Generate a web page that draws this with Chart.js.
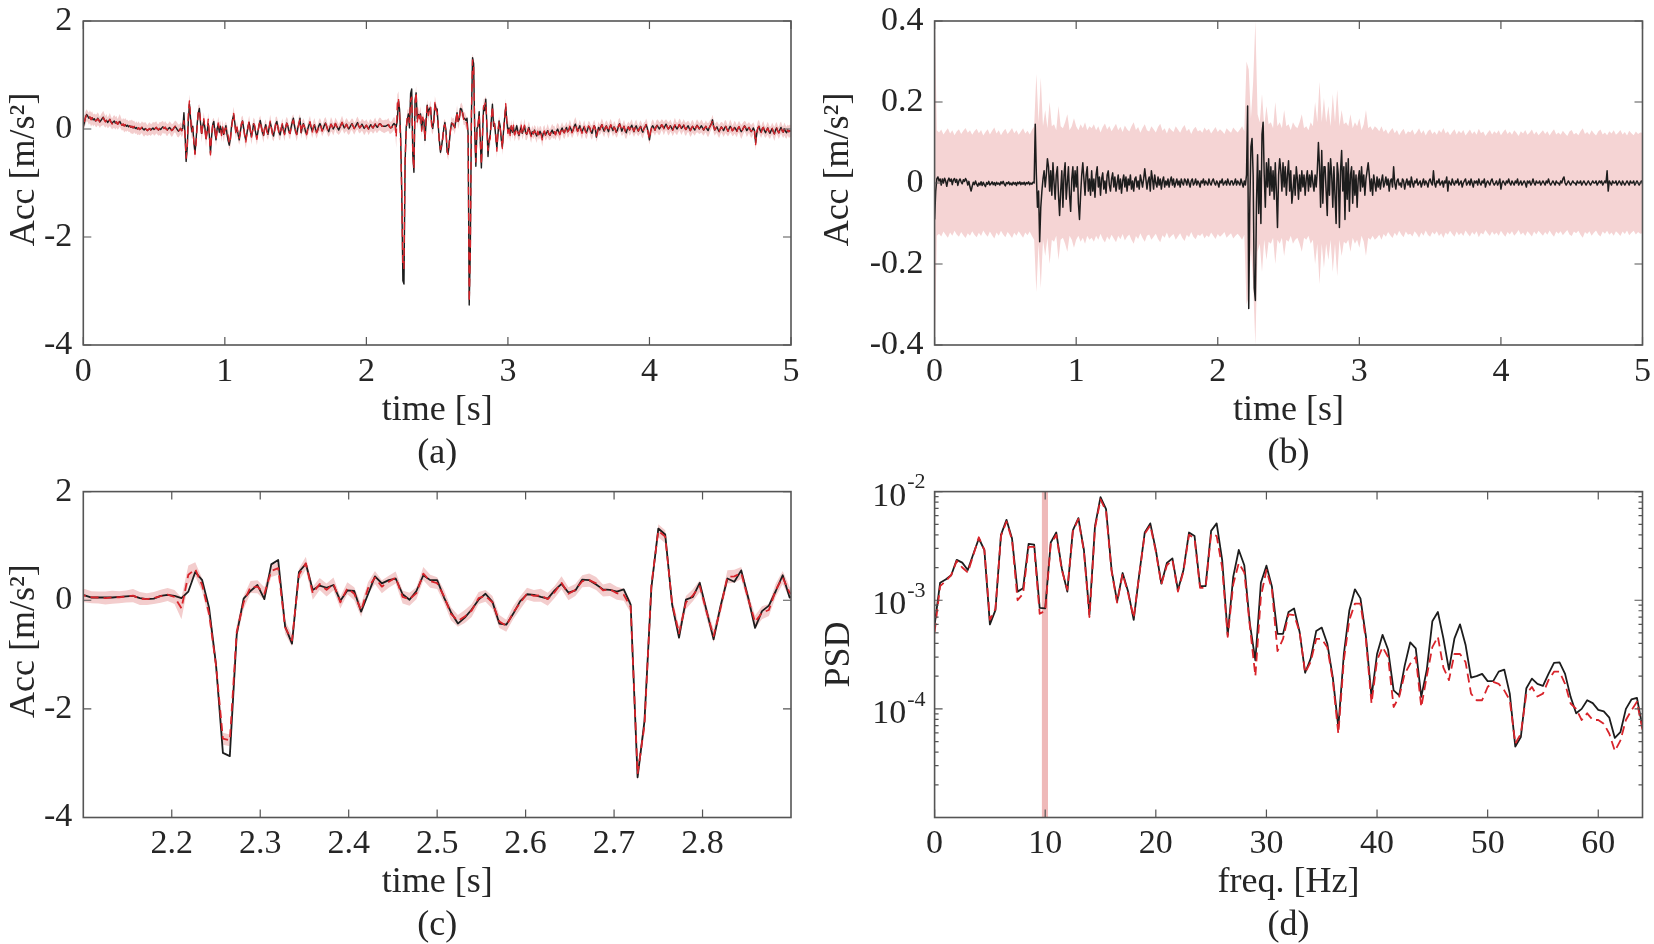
<!DOCTYPE html>
<html><head><meta charset="utf-8">
<script src="https://cdn.jsdelivr.net/npm/chart.js@4.4.1/dist/chart.umd.min.js"></script>
<style>
html,body{margin:0;padding:0;background:#fff;width:1654px;height:944px;overflow:hidden}
.box{position:absolute}
</style></head><body>
<div class="box" style="left:0;top:0"><canvas id="ca" width="827" height="472"></canvas></div>
<div class="box" style="left:790px;top:0"><canvas id="cb" width="864" height="472"></canvas></div>
<div class="box" style="left:0;top:472px"><canvas id="cc" width="827" height="472"></canvas></div>
<div class="box" style="left:790px;top:472px"><canvas id="cd" width="864" height="472"></canvas></div>
<script>
// ---------------- data ----------------
const fs = 128;      // samples per second of the acceleration records
const fsBand = 64;   // samples per second of the error-band envelope in (b)

// measured acceleration (black), m/s^2
const accTrue = [
0.04,0.12,0.22,0.27,0.24,0.2,0.22,0.18,0.21,0.17,
0.19,0.15,0.16,0.2,0.17,0.13,0.16,0.19,0.22,0.17,
0.14,0.16,0.12,0.15,0.18,0.13,0.1,0.13,0.15,0.11,
0.13,0.09,0.11,0.14,0.1,0.07,0.09,0.06,0.08,0.05,
0.07,0.04,0.06,0.03,0.05,0.02,0.04,0.01,0.03,0,
0.02,-0.01,0.01,0.03,0,-0.02,0.01,-0.01,-0.03,-0.01,
0.01,-0.02,0,0.02,-0.01,0.01,0.03,0,-0.02,0.01,
-0.01,0.02,0.04,0.01,0.03,0,-0.02,0.01,0.03,0,
-0.03,-0.01,0.02,0.05,0.02,-0.01,-0.04,-0.02,0.01,-0.03,
0.02,0.3,-0.1,-0.6,-0.35,0.15,0.46,0.2,-0.05,0.05,
-0.25,-0.45,-0.2,0.1,0.3,0.38,0.12,-0.08,0.05,0.15,
0.02,-0.18,-0.05,0.1,-0.12,-0.45,-0.15,0.08,0.14,-0.05,
-0.2,0,0.08,-0.06,0.05,-0.08,0.02,-0.1,-0.02,0.06,
-0.1,-0.22,-0.3,-0.18,0.05,0.18,0.26,0.12,-0.05,0.02,
-0.1,-0.2,-0.05,0.08,0.15,0.02,-0.12,-0.2,-0.08,0.05,
0.12,-0.02,-0.14,-0.05,0.1,0.04,-0.08,-0.16,-0.04,0.07,
0.16,0.05,-0.06,-0.12,0,0.08,-0.03,-0.1,0.02,0.12,
0.04,-0.07,-0.13,-0.02,0.09,0.14,0.03,-0.06,-0.11,0.01,
0.08,-0.02,-0.09,0.03,0.11,0.05,-0.04,-0.08,0.04,0.13,
0.2,0.06,-0.05,-0.1,0.02,0.09,0.2,-0.07,0.03,0.1,
0.04,-0.05,-0.09,0,0.07,0.12,0.03,-0.04,0.02,0.08,
0,-0.06,-0.02,0.06,0.1,0.04,-0.03,0.01,0.07,0.11,
0.05,-0.01,-0.05,0.03,0.09,0.05,0,0.04,0.1,0.06,
0.02,-0.02,0.03,0.08,0.12,0.07,0.02,0.05,0.09,0.04,
0,0.03,0.07,0.1,0.05,0.01,0.04,0.08,0.12,0.06,
0.02,0.05,0.09,0.05,0.01,0.04,0.07,0.03,0,0.05,
0.08,0.04,0.02,0.06,0.09,0.05,0.03,0.07,0.1,0.09,
0.05,0.05,0.05,0.05,0.06,0.07,0.08,0.04,0.02,0.03,
0.08,0.1,0.08,0.04,0.16,0.52,0.37,-0.14,-1.18,-2.81,
-2.87,-0.63,0.03,0.17,0.28,0.02,0.66,0.74,-0.48,-0.8,
0.52,0.67,0.19,0.27,0.23,0.28,-0.01,0.18,0.17,-0.21,
0.11,0.44,0.31,0.37,0.4,0.11,0.01,0.17,0.46,0.37,
0.37,0.05,-0.22,-0.43,-0.32,-0.17,0.01,0.12,-0.03,-0.43,
-0.45,-0.25,-0.02,0.11,0.1,0.06,0.03,0.18,0.3,0.14,
0.18,0.38,0.37,0.29,0.2,0.19,0.16,0.2,-0.08,-3.26,
-2.22,0.23,1.32,1.21,-0.08,-0.69,0.01,0.06,0.32,-0.2,
-0.72,-0.11,0.4,0.34,0.55,0.05,-0.51,-0.2,-0.1,0.17,
0.46,0.05,0.1,-0.15,-0.35,-0.1,0.15,0.05,-0.2,-0.33,
-0.05,0.2,0.41,0.15,-0.05,0.02,-0.08,0.05,-0.06,0.04,
-0.1,-0.02,0.06,-0.05,-0.12,-0.03,0.04,-0.08,-0.02,0.05,
-0.06,-0.1,-0.03,0.03,-0.07,-0.12,-0.05,-0.09,-0.02,-0.08,
-0.13,-0.06,-0.1,-0.04,-0.09,-0.16,-0.08,-0.05,-0.11,-0.07,
-0.03,-0.09,-0.12,-0.06,-0.02,-0.08,-0.05,-0.1,-0.04,0,
-0.06,-0.09,-0.03,0.02,-0.04,-0.07,-0.01,0.03,-0.05,-0.02,
0.04,0,-0.06,-0.02,0.05,0.09,0.02,-0.04,0.01,0.06,
-0.02,-0.05,0,0.04,-0.03,-0.07,-0.01,0.05,0.02,-0.04,
-0.08,0,0.06,0.02,-0.15,-0.05,0.03,-0.02,0.04,0.08,
0.01,-0.04,0.02,0.06,0,-0.05,0.03,0.07,0.02,-0.03,
0.04,0,-0.06,-0.02,0.05,0.1,0.03,-0.04,0.01,0.05,
-0.03,-0.07,0,0.04,-0.02,0.03,0.07,0.01,-0.05,0.02,
0.06,0,-0.04,0.02,0.05,-0.02,-0.06,0.01,0.04,0.08,
0.02,-0.08,-0.2,-0.05,0.03,0.06,0.02,-0.02,0.04,0.07,
0.03,0,0.04,0.08,0.05,0.01,0.05,0.09,0.04,0,
0.03,0.06,0.02,-0.02,0.03,0.07,0.03,0,0.04,0.08,
0.05,0.01,0.04,0.07,0.02,-0.01,0.03,0.06,0.01,-0.03,
0.02,0.05,0.01,-0.02,0.03,0.07,0.04,0,0.03,0.06,
0.02,-0.02,0.02,0.05,0,-0.03,0.02,0.06,0.1,0.17,
0.05,-0.02,0.01,0.04,-0.01,-0.05,0,0.04,0.01,-0.03,
0.02,0.05,0,-0.04,0.01,0.05,0.02,-0.03,-0.01,0.03,
0,-0.04,0.01,0.04,-0.01,-0.05,-0.02,0.02,0.06,0.02,
-0.03,0,0.03,-0.01,-0.05,-0.02,0.02,-0.03,-0.26,-0.08,
0.02,0.05,-0.02,-0.06,0,0.03,-0.03,-0.07,-0.02,0.02,
-0.04,-0.08,-0.03,0.01,-0.05,-0.09,-0.02,0.02,-0.04,-0.07,
-0.01,0.03,-0.03,-0.06,0,-0.04,-0.07,-0.02,-0.05,-0.03,
-0.04
];

// prediction error = measured - predicted mean, m/s^2  (black line of (b))
const accErr = [
-0.09,-0.02,0.01,0.015,0.005,0.01,-0.005,0.01,0,0.012,
0.005,-0.008,0.006,0.012,0.004,0.01,-0.004,0.008,0.011,0.002,
0.009,-0.006,0.005,0.01,0.003,-0.002,0.008,0.004,0.011,0.006,
-0.005,0.004,-0.01,-0.02,-0.008,0.002,-0.004,0.005,-0.003,-0.008,
0,-0.005,0.003,-0.006,0.002,-0.004,-0.009,0.001,-0.003,0.004,
-0.005,-0.002,0.003,-0.004,0.001,-0.006,0.002,-0.003,0,-0.005,
0.003,-0.002,0.004,-0.003,-0.007,0.001,-0.002,0.003,-0.004,0,
-0.005,0.002,-0.003,0.001,-0.006,0.002,-0.002,0.003,-0.004,0.001,
-0.003,0.002,-0.005,0.001,-0.002,0.003,-0.004,0,-0.003,0.002,
0,0.145,0.02,-0.06,-0.02,-0.145,-0.06,-0.02,0.01,0.03,
-0.01,0.02,0.06,0.04,-0.02,0.03,-0.03,0.05,0,-0.04,
0.02,0.04,-0.03,-0.08,-0.02,0.03,-0.06,0.02,0.05,-0.04,
0,0.04,-0.03,-0.07,0.01,0.04,-0.02,0.03,-0.01,0.04,
-0.05,-0.09,-0.03,0.02,0.05,0.01,-0.03,0.02,0.04,-0.02,
0.01,-0.03,0.03,-0.02,0.01,-0.035,0.02,0.04,-0.01,0.015,
-0.03,0.01,0.025,-0.015,0.005,-0.025,0.02,0.03,-0.005,-0.02,
0.01,0.025,-0.01,0.015,-0.02,0,0.02,-0.015,0.01,-0.025,
0.005,0.02,-0.01,0.015,-0.02,0.01,-0.005,0.02,-0.015,0.005,
-0.02,0.01,0.015,-0.01,0.005,-0.015,0.02,0.005,-0.01,0.01,
0.035,0.01,-0.015,0.005,0.015,-0.02,0.03,0.01,-0.015,0.02,
0,-0.01,0.015,-0.005,0.01,-0.015,0.005,0.015,-0.01,0.005,
-0.005,0.01,-0.01,0.005,0.015,-0.005,0.01,-0.01,0,0.01,
-0.005,0.005,-0.01,0.01,0,-0.005,0.01,0.005,-0.005,0.01,
0,-0.01,0.005,0.01,-0.005,0,0.01,-0.005,0.005,0,
-0.01,0.005,0,0.01,-0.005,0.005,0,-0.005,0.01,0,
-0.005,0.005,0.01,0,-0.005,0.005,0,-0.01,0.005,0,
0.01,-0.005,0,0.005,-0.005,0.01,0,-0.005,0.005,0.005,
-0.005,0,0.01,-0.005,0.005,0,-0.005,0.01,0,-0.01,
0.005,-0.005,0.02,0.19,-0.31,-0.05,0.09,0.11,0.02,-0.26,
-0.29,-0.05,0.07,-0.075,0.03,-0.1,0.12,0.15,0.02,-0.06,
0.05,-0.01,0.06,-0.03,0.04,-0.02,0.03,-0.04,0.05,-0.02,
-0.11,0.02,0.06,0.03,-0.02,0.05,-0.01,0.04,-0.03,0.02,
0.055,-0.02,0.03,-0.05,-0.02,0.02,-0.03,0.04,0.01,-0.04,
0.02,-0.02,0.03,-0.01,0.02,-0.03,0.01,0.03,-0.02,0.02,
-0.01,0.03,0,-0.02,0.02,-0.01,0.03,0.1,0.04,-0.06,
0.08,-0.05,0.04,0.04,-0.02,-0.08,0.05,-0.03,0.06,0.02,
-0.06,0.04,-0.03,-0.1,0.05,0.02,-0.11,0.03,0.08,-0.02,
0.04,-0.09,0.05,-0.04,0.06,-0.07,0.02,0.04,-0.05,0.03,
-0.03,0.02,-0.06,0.01,0.03,-0.02,0.04,-0.01,0.02,-0.03,
0.01,0.03,0.05,0.02,-0.02,0.01,-0.03,0.02,0,-0.02,
0.015,-0.01,0.01,-0.015,0.005,0.02,-0.01,0,0.015,-0.005,
0.01,-0.02,0.005,0.01,-0.01,0.04,0,-0.015,0.005,0.01,
-0.005,0,-0.01,0.01,0.005,-0.015,0,0.01,-0.005,0.005,
-0.01,0.015,0,-0.01,0.005,0,0.01,-0.005,0,0.005,
-0.01,0,0.01,-0.005,0.005,0,-0.01,0.005,0.01,0,
-0.005,0.03,0,-0.01,0.005,0,0.01,-0.005,0,0.005,
-0.01,0.005,0,0.015,-0.02,0.005,0,-0.005,0.01,0,
-0.005,0.005,0,0.01,-0.005,0,0.005,-0.01,0,0.005,
0.01,-0.005,0,0.005,-0.005,0.01,0,-0.01,0.005,0,
0.005,-0.005,0.01,0,-0.005,0.005,0,0.01,-0.01,0,
0.005,0,-0.005,0.005,0.01,0,-0.005,0,0.005,-0.005,
0,0.01,-0.015,0,0.005,0,-0.005,0.005,0,0.01,
0,-0.005,0.005,0,-0.005,0.005,0,0.01,-0.005,0,
0.005,-0.005,0,0.005,0,-0.01,0.005,0,0.005,-0.005,
0,0.01,0,-0.005,0.005,0,0,0.005,-0.005,0,
0.005,0,-0.005,0.005,0,0.01,0,-0.005,0,0.005,
0,-0.005,0.005,0,0,-0.005,0.005,0,0.01,0.015,
0,-0.005,0,0.005,0,-0.005,0,0.005,0,0,
-0.005,0.005,0,0,0.005,-0.005,0,0.005,0,-0.005,
0,0.005,0,-0.005,0,0.005,0,0,0.005,-0.005,
0,0.005,0,0.005,-0.005,0,0.005,0,0.03,-0.02,
0.005,0,-0.005,0.005,0,0,0.005,-0.005,0,0.005,
0,-0.005,0.005,0,-0.005,0,0.005,0,-0.005,0.005,
0,0,0.005,-0.005,0,0.005,0,-0.005,0,0.005,
0
];

// half-width of the uncertainty band around the predicted mean, (a) and (c)
const bandA = [
0.11,0.12,0.12,0.11,0.10,0.11,0.12,0.13,0.12,0.11,0.10,0.11,0.12,0.12,0.11,0.10,
0.11,0.12,0.13,0.12,0.11,0.11,0.10,0.11,0.12,0.11,0.10,0.11,0.12,0.12,0.11,0.10,
0.11,0.12,0.11,0.10,0.11,0.12,0.12,0.11,0.10,0.10,0.11,0.12,0.13,0.12,0.11,0.10,
0.11,0.11,0.12,0.11,0.10,0.11,0.12,0.13,0.12,0.11,0.10,0.11,0.12,0.11,0.10,0.11,
0.12,0.12,0.11,0.10,0.11,0.12,0.13,0.12,0.11,0.10,0.11,0.12,0.11,0.10,0.11,0.12,
0.12,0.11,0.10,0.11,0.12,0.13,0.12,0.11,0.11,0.12,0.13,0.14,0.13,0.12,0.12,0.13,
0.12,0.11,0.12,0.13,0.12,0.11,0.12,0.13,0.12,0.11,0.12,0.12,0.11,0.12,0.13,0.12,
0.11,0.12,0.13,0.12,0.11,0.12,0.12,0.11,0.12,0.13,0.12,0.11,0.11,0.12,0.13,0.12,
0.11,0.12,0.12,0.11,0.12,0.13,0.12,0.11,0.12,0.12,0.11,0.10,0.11,0.12,0.13,0.12,
0.11,0.10,0.11,0.12,0.12,0.11,0.10,0.11,0.12,0.13,0.12,0.11,0.10,0.11,0.12,0.11,
0.10,0.11,0.12,0.12,0.11,0.10,0.11,0.12,0.13,0.12,0.11,0.10,0.11,0.12,0.11,0.10,
0.11,0.12,0.12,0.11,0.10,0.11,0.12,0.13,0.12,0.11,0.10,0.11,0.12,0.12,0.11,0.10,
0.11,0.12,0.13,0.12,0.11,0.10,0.11,0.12,0.11,0.10,0.11,0.12,0.12,0.11,0.10,0.11,
0.12,0.13,0.12,0.11,0.10,0.11,0.12,0.11,0.10,0.11,0.12,0.12,0.11,0.10,0.11,0.12,
0.13,0.12,0.11,0.10,0.11,0.12,0.11,0.10,0.11,0.12,0.12,0.11,0.10,0.11,0.12,0.13,
0.12,0.11,0.10,0.11,0.12,0.11,0.10,0.11,0.12,0.12,0.11,0.10,0.11,0.12,0.13,0.12,
0.11,0.10,0.11,0.12,0.11,0.10,0.11,0.12,0.12,0.11,0.10,0.11,0.12,0.12,0.11,0.11,
0.12,0.12,0.11,0.11,0.12,0.12,0.11,0.11,0.12,0.12,0.13,0.20,0.17,0.13,0.12,0.12,
0.12,0.11,0.11,0.12,0.12,0.11,0.12,0.12,0.11,0.12,0.12,0.11,0.11,0.12,0.12,0.11,
0.12,0.12,0.11,0.11,0.12,0.12,0.11,0.12,0.12,0.11,0.11,0.12,0.12,0.11,0.12,0.12,
0.11,0.12,0.12,0.11,0.12,0.12,0.11,0.11,0.12,0.12,0.11,0.12,0.12,0.11,0.11,0.12,
0.12,0.11,0.12,0.12,0.11,0.11,0.12,0.12,0.11,0.12,0.12,0.11,0.11,0.12,0.12,0.12,
0.12,0.12,0.11,0.12,0.12,0.11,0.11,0.12,0.12,0.11,0.12,0.12,0.11,0.11,0.12,0.12,
0.11,0.12,0.12,0.11,0.11,0.12,0.13,0.12,0.11,0.10,0.11,0.12,0.12,0.11,0.10,0.11,
0.12,0.13,0.12,0.11,0.10,0.11,0.12,0.11,0.10,0.11,0.12,0.12,0.11,0.10,0.11,0.12,
0.13,0.12,0.11,0.10,0.11,0.12,0.11,0.10,0.11,0.12,0.12,0.11,0.10,0.11,0.12,0.13,
0.12,0.11,0.10,0.11,0.12,0.11,0.10,0.11,0.12,0.12,0.11,0.10,0.11,0.12,0.13,0.12,
0.11,0.10,0.11,0.12,0.11,0.10,0.11,0.12,0.12,0.11,0.10,0.11,0.12,0.13,0.12,0.11,
0.10,0.11,0.12,0.11,0.10,0.11,0.12,0.12,0.11,0.10,0.11,0.12,0.13,0.12,0.11,0.10,
0.11,0.12,0.11,0.10,0.11,0.12,0.12,0.11,0.10,0.11,0.12,0.13,0.12,0.11,0.10,0.11,
0.12,0.11,0.10,0.11,0.12,0.12,0.11,0.10,0.11,0.12,0.13,0.12,0.11,0.10,0.11,0.12,
0.11,0.10,0.11,0.12,0.12,0.11,0.10,0.11,0.12,0.13,0.12,0.11,0.10,0.11,0.12,0.11,
0.10,0.11,0.12,0.12,0.11,0.10,0.11,0.12,0.13,0.12,0.11,0.10,0.11,0.12,0.11,0.10,
0.11,0.12,0.12,0.11,0.10,0.11,0.12,0.13,0.12,0.11,0.10,0.11,0.12,0.11,0.10,0.11,
0.12,0.12,0.11,0.10,0.11,0.12,0.13,0.12,0.11,0.10,0.11,0.12,0.11,0.10,0.11,0.12,
0.12,0.11,0.10,0.11,0.12,0.13,0.12,0.11,0.10,0.11,0.12,0.11,0.10,0.11,0.12,0.12,
0.11,0.10,0.11,0.12,0.13,0.12,0.11,0.10,0.11,0.12,0.11,0.10,0.11,0.12,0.12,0.11,
0.10,0.11,0.12,0.13,0.12,0.11,0.10,0.11,0.12,0.11,0.10,0.11,0.12,0.12,0.11,0.10,
0.11,0.12,0.13,0.12,0.11,0.10,0.11,0.12,0.11,0.10,0.11,0.12,0.12,0.11,0.10,0.11,
0.12,0.13,0.12,0.11,0.10,0.11,0.12,0.11,0.10,0.11,0.12,0.12,0.11,0.10,0.11,0.12,
0.11
];

// half-width of the error band in (b), sampled at fsBand
const bandB = [
0.45,0.13,0.125,0.132,0.12,0.128,0.135,0.122,0.13,0.118,0.127,0.133,0.121,0.129,0.136,0.124,
0.13,0.119,0.128,0.134,0.123,0.131,0.117,0.126,0.133,0.12,0.129,0.137,0.122,0.13,0.118,0.127,
0.134,0.121,0.128,0.136,0.123,0.13,0.119,0.127,0.135,0.122,0.129,0.12,0.131,0.14,0.27,0.15,
0.26,0.14,0.18,0.135,0.2,0.14,0.145,0.13,0.19,0.14,0.135,0.15,0.17,0.13,0.14,0.16,
0.14,0.13,0.145,0.135,0.15,0.13,0.14,0.135,0.145,0.13,0.14,0.125,0.138,0.147,0.132,0.141,
0.128,0.137,0.146,0.13,0.139,0.126,0.142,0.133,0.127,0.14,0.15,0.131,0.138,0.124,0.136,0.145,
0.13,0.127,0.14,0.133,0.125,0.138,0.146,0.129,0.135,0.122,0.137,0.131,0.126,0.14,0.132,0.124,
0.136,0.143,0.128,0.134,0.121,0.133,0.139,0.127,0.131,0.124,0.137,0.129,0.134,0.122,0.13,0.138,
0.126,0.133,0.128,0.121,0.135,0.129,0.124,0.137,0.13,0.125,0.132,0.14,0.128,0.3,0.28,0.16,
0.25,0.4,0.17,0.15,0.22,0.14,0.19,0.145,0.15,0.135,0.2,0.14,0.15,0.135,0.18,0.14,
0.145,0.13,0.15,0.14,0.135,0.15,0.17,0.135,0.14,0.13,0.15,0.14,0.2,0.15,0.25,0.15,
0.21,0.15,0.19,0.14,0.22,0.15,0.23,0.14,0.18,0.145,0.15,0.14,0.17,0.135,0.15,0.14,
0.16,0.13,0.145,0.18,0.135,0.14,0.13,0.14,0.135,0.128,0.14,0.126,0.133,0.121,0.129,0.136,
0.123,0.131,0.118,0.127,0.134,0.12,0.128,0.125,0.132,0.119,0.126,0.135,0.122,0.13,0.117,0.128,
0.133,0.121,0.127,0.119,0.131,0.124,0.136,0.122,0.128,0.118,0.126,0.133,0.12,0.129,0.123,0.131,
0.117,0.125,0.132,0.121,0.128,0.119,0.134,0.123,0.127,0.116,0.124,0.131,0.12,0.128,0.122,0.13,
0.118,0.126,0.133,0.121,0.127,0.119,0.13,0.124,0.116,0.128,0.122,0.131,0.119,0.125,0.132,0.12,
0.127,0.118,0.124,0.13,0.121,0.128,0.117,0.126,0.133,0.12,0.125,0.119,0.129,0.122,0.116,0.127,
0.131,0.12,0.124,0.118,0.128,0.135,0.121,0.126,0.119,0.13,0.123,0.117,0.127,0.132,0.12,0.125,
0.118,0.128,0.122,0.13,0.119,0.124,0.131,0.12,0.126,0.117,0.129,0.123,0.118,0.127,0.121,0.125,
0.124
];

// power spectral density, 0..64 Hz in 0.5 Hz steps
const psdStep = 0.5;
const psdTrue = [
5.9e-4,1.45e-3,1.55e-3,1.7e-3,2.35e-3,2.22e-3,1.9e-3,2.66e-3,3.7e-3,2.9e-3,
6.0e-4,8.1e-4,4.0e-3,5.5e-3,3.7e-3,1.2e-3,1.29e-3,3.3e-3,3.25e-3,8.5e-4,
8.4e-4,3.4e-3,4.2e-3,1.96e-3,1.2e-3,4.4e-3,5.7e-3,2.9e-3,7.4e-4,4.8e-3,
8.9e-3,6.9e-3,1.9e-3,9.7e-4,1.78e-3,1.2e-3,6.6e-4,1.73e-3,4.2e-3,5.1e-3,
2.9e-3,1.42e-3,2.2e-3,2.43e-3,1.24e-3,1.9e-3,4.2e-3,3.9e-3,1.35e-3,1.35e-3,
4.35e-3,5.1e-3,2.34e-3,4.8e-4,1.65e-3,2.9e-3,2.1e-3,6.1e-4,2.8e-4,1.45e-3,
2.08e-3,1.33e-3,4.9e-4,4.9e-4,7.8e-4,8.4e-4,5.1e-4,2.15e-4,2.9e-4,5.2e-4,
5.6e-4,4.0e-4,1.95e-4,6.8e-5,3.2e-4,8.1e-4,1.26e-3,1.04e-3,4.6e-4,1.29e-4,
3.2e-4,4.8e-4,3.5e-4,1.48e-4,1.33e-4,2.5e-4,4.1e-4,3.6e-4,1.29e-4,2.3e-4,
6.4e-4,7.8e-4,4.45e-4,2.3e-4,4.45e-4,6.0e-4,3.9e-4,1.94e-4,2.0e-4,2.1e-4,
1.8e-4,1.8e-4,2.2e-4,2.3e-4,1.38e-4,4.5e-5,5.5e-5,1.55e-4,1.9e-4,1.7e-4,
1.63e-4,2.1e-4,2.65e-4,2.68e-4,2.1e-4,1.29e-4,9.1e-5,1.0e-4,1.2e-4,1.13e-4,
9.8e-5,9.5e-5,8.3e-5,5.4e-5,6.1e-5,1.0e-4,1.22e-4,1.26e-4,6.8e-5
];
const psdPred = [
5.1e-4,1.35e-3,1.5e-3,1.7e-3,2.3e-3,2.0e-3,1.8e-3,2.6e-3,3.8e-3,2.9e-3,
6.6e-4,8.3e-4,3.9e-3,5.3e-3,3.6e-3,1.0e-3,1.15e-3,3.1e-3,3.1e-3,7.5e-4,
8.0e-4,3.3e-3,4.0e-3,1.9e-3,1.25e-3,4.3e-3,5.6e-3,2.8e-3,7.0e-4,4.6e-3,
8.5e-3,6.6e-3,1.85e-3,9.5e-4,1.75e-3,1.15e-3,6.9e-4,1.7e-3,4.1e-3,4.9e-3,
2.8e-3,1.4e-3,2.1e-3,2.35e-3,1.2e-3,1.85e-3,4.0e-3,3.7e-3,1.3e-3,1.3e-3,
4.1e-3,3.9e-3,2.0e-3,4.6e-4,1.4e-3,2.2e-3,1.8e-3,5.8e-4,2.0e-4,1.08e-3,
1.9e-3,1.25e-3,3.4e-4,4.4e-4,7.4e-4,7.3e-4,5.1e-4,2.15e-4,2.7e-4,4.4e-4,
4.4e-4,3.7e-4,1.84e-4,5.9e-5,2.8e-4,6.6e-4,9.3e-4,9.3e-4,4.3e-4,1.12e-4,
2.8e-4,3.7e-4,3.0e-4,1.04e-4,1.29e-4,2.1e-4,2.6e-4,3.0e-4,1.04e-4,2.0e-4,
3.7e-4,4.6e-4,2.4e-4,1.84e-4,3.2e-4,3.2e-4,2.7e-4,1.38e-4,1.2e-4,1.2e-4,
1.59e-4,1.77e-4,1.7e-4,1.48e-4,1.2e-4,4.8e-5,5.9e-5,1.38e-4,1.59e-4,1.3e-4,
1.38e-4,1.84e-4,2.2e-4,2.2e-4,1.7e-4,1.12e-4,1.0e-4,7.9e-5,9.1e-5,7.9e-5,
7.9e-5,7.3e-5,5.9e-5,4.1e-5,5.1e-5,7.9e-5,9.7e-5,1.16e-4,6.4e-5
];
const psdHighlight = [9.7, 10.25];   // Hz, shaded frequency band in (d)

// tick values
const ticksAx = [0,1,2,3,4,5];
const ticksAy = [-4,-2,0,2];
const ticksBy = [-0.4,-0.2,0,0.2,0.4];
const ticksCx = [2.2,2.3,2.4,2.5,2.6,2.7,2.8];
const ticksDx = [0,10,20,30,40,50,60];
const ticksDy = [1e-5,1e-4,1e-3,1e-2];
const ticksDyLabels = [1e-4,1e-3,1e-2];

// ---------------- derived series ----------------
const tAcc = accTrue.map((_, k) => k / fs);
const accPred = accTrue.map((v, k) => v - accErr[k]);
const tBand = bandB.map((_, j) => j / fsBand);
const fPsd = psdTrue.map((_, i) => i * psdStep);
const pts = (xs, ys) => ys.map((v, i) => ({x: xs[i], y: v}));

// ---------------- styling ----------------
Chart.defaults.font.family = "'Liberation Serif','Times New Roman',serif";
Chart.defaults.color = '#262626';
const BLACK = '#1d1d1d', RED = '#d8242b', PINK_A = '#f3cdcd', PINK_B = '#f5d4d4', PINK_D = '#efb9b9';
const FRAME = '#555555';
const TICKF = {size: 34, lineHeight: 1.0};
const TITLEF = {size: 36, lineHeight: 1.2};

function frame(cfg) {
  return {
    id: 'mframe',
    beforeDatasetsDraw(chart) {
      if (!cfg.highlight) return;
      const {ctx, chartArea: a, scales: {x}} = chart;
      const x1 = x.getPixelForValue(cfg.highlight[0]), x2 = x.getPixelForValue(cfg.highlight[1]);
      ctx.save(); ctx.fillStyle = PINK_D; ctx.fillRect(x1, a.top, x2 - x1, a.bottom - a.top); ctx.restore();
    },
    afterDatasetsDraw(chart) {
      const {ctx, chartArea: a, scales: {x, y}} = chart;
      ctx.save();
      ctx.strokeStyle = FRAME; ctx.lineWidth = 1.2;
      ctx.beginPath();
      const L = 8, m = 4;
      for (const v of cfg.xt) { const p = x.getPixelForValue(v);
        ctx.moveTo(p, a.bottom); ctx.lineTo(p, a.bottom - L); ctx.moveTo(p, a.top); ctx.lineTo(p, a.top + L); }
      for (const v of cfg.yt) { const p = y.getPixelForValue(v);
        ctx.moveTo(a.left, p); ctx.lineTo(a.left + L, p); ctx.moveTo(a.right, p); ctx.lineTo(a.right - L, p); }
      if (cfg.logMinor) {
        for (let d = -5; d < -2; d++) for (let k = 2; k <= 9; k++) {
          const p = y.getPixelForValue(k * Math.pow(10, d));
          ctx.moveTo(a.left, p); ctx.lineTo(a.left + m, p); ctx.moveTo(a.right, p); ctx.lineTo(a.right - m, p);
        }
      }
      ctx.stroke();
      ctx.lineWidth = 1.6;
      ctx.strokeRect(a.left, a.top, a.right - a.left, a.bottom - a.top);
      if (cfg.logLabels) {
        ctx.fillStyle = '#262626'; ctx.textAlign = 'right'; ctx.textBaseline = 'middle';
        for (const v of cfg.logLabels) {
          const py = y.getPixelForValue(v);
          const sup = String(Math.round(Math.log10(v)));
          ctx.font = "22px 'Liberation Serif'";
          const sw = ctx.measureText(sup).width;
          const xr = a.left - 9;
          ctx.fillText(sup, xr, py - 9);
          ctx.font = "34px 'Liberation Serif'";
          ctx.fillText('10', xr - sw - 1, py + 5);
        }
      }
      ctx.restore();
    }
  };
}

function axis(min, max, ticks, size, isX, title, titlePad, extra) {
  return Object.assign({
    type: 'linear', min, max,
    afterBuildTicks: s => { s.ticks = ticks.map(v => ({value: v})); },
    afterFit: s => {
      if (isX) { s.height = size; s.paddingLeft = 0; s.paddingRight = 0; }
      else { s.width = size; s.paddingTop = 0; s.paddingBottom = 0; }
    },
    grid: {display: false, drawTicks: false}, border: {display: false},
    ticks: {font: TICKF, color: '#262626', autoSkip: false, maxRotation: 0, padding: isX ? 10 : 11},
    title: {display: true, text: title, font: TITLEF, color: '#262626', padding: titlePad}
  }, extra || {});
}

const lineDS = (data, color, w, dash) => ({data, borderColor: color, borderWidth: w, borderDash: dash || [],
  pointRadius: 0, tension: 0, fill: false, borderJoinStyle: 'round', borderCapStyle: 'butt'});
const bandDS = (data, fill, color) => ({data, borderWidth: 0, borderColor: 'rgba(0,0,0,0)', pointRadius: 0,
  tension: 0, fill, backgroundColor: color});

function baseOptions(pad, scales) {
  return {
    responsive: false, animation: false, devicePixelRatio: 1, events: [], parsing: false, normalized: true,
    layout: {padding: pad},
    plugins: {legend: {display: false}, tooltip: {enabled: false}, filler: {drawTime: 'beforeDatasetsDraw'}},
    scales
  };
}

function accDatasets(w) {
  return [
    lineDS(pts(tAcc, accPred), RED, w, [8, 5]),
    lineDS(pts(tAcc, accTrue), BLACK, w),
    bandDS(pts(tAcc, accPred.map((v, k) => v + bandA[k])), 3, PINK_A),
    bandDS(pts(tAcc, accPred.map((v, k) => v - bandA[k])), false, PINK_A)
  ];
}

const yTitleAcc = '   Acc [m/s\u00B2]';

// (a)
new Chart(document.getElementById('ca'), {
  type: 'line',
  data: {datasets: accDatasets(1.4)},
  options: baseOptions({left: 0, right: 36, top: 21, bottom: 0}, {
    x: axis(0, 5, ticksAx, 127, true, ['time [s]', '(a)'], {top: 0, bottom: -3}),
    y: axis(-4, 2, ticksAy, 83.3, false, yTitleAcc, {top: 3, bottom: 0})
  }),
  plugins: [frame({xt: ticksAx, yt: ticksAy})]
});

// (b)
new Chart(document.getElementById('cb'), {
  type: 'line',
  data: {datasets: [
    lineDS(pts(tAcc, accErr), BLACK, 1.5),
    bandDS(pts(tBand, bandB), 2, PINK_B),
    bandDS(pts(tBand, bandB.map(v => -v)), false, PINK_B)
  ]},
  options: baseOptions({left: 0, right: 11.5, top: 21, bottom: 0}, {
    x: axis(0, 5, ticksAx, 127, true, ['time [s]', '(b)'], {top: 0, bottom: -3}),
    y: axis(-0.4, 0.4, ticksBy, 144.6, false, yTitleAcc, {top: 27, bottom: 0})
  }),
  plugins: [frame({xt: ticksAx, yt: ticksBy})]
});

// (c)
new Chart(document.getElementById('cc'), {
  type: 'line',
  data: {datasets: accDatasets(1.8)},
  options: baseOptions({left: 0, right: 36, top: 19.6, bottom: 0}, {
    x: axis(2.1, 2.9, ticksCx, 126.5, true, ['time [s]', '(c)'], {top: 0, bottom: -3}),
    y: axis(-4, 2, ticksAy, 83.3, false, yTitleAcc, {top: 3, bottom: 0})
  }),
  plugins: [frame({xt: ticksCx, yt: ticksAy})]
});

// (d)
new Chart(document.getElementById('cd'), {
  type: 'line',
  data: {datasets: [
    lineDS(pts(fPsd, psdPred), RED, 1.8, [9, 5]),
    lineDS(pts(fPsd, psdTrue), BLACK, 1.8)
  ]},
  options: baseOptions({left: 0, right: 11.5, top: 19.6, bottom: 0}, {
    x: axis(0, 64, ticksDx, 126.5, true, ['freq. [Hz]', '(d)'], {top: 0, bottom: -3}),
    y: axis(1e-5, 1e-2, ticksDy, 144.6, false, 'PSD', {top: 28, bottom: 0},
      {type: 'logarithmic', ticks: {display: false}})
  }),
  plugins: [frame({xt: ticksDx, yt: ticksDy, logMinor: true, logLabels: ticksDyLabels, highlight: psdHighlight})]
});
</script>
</body></html>
